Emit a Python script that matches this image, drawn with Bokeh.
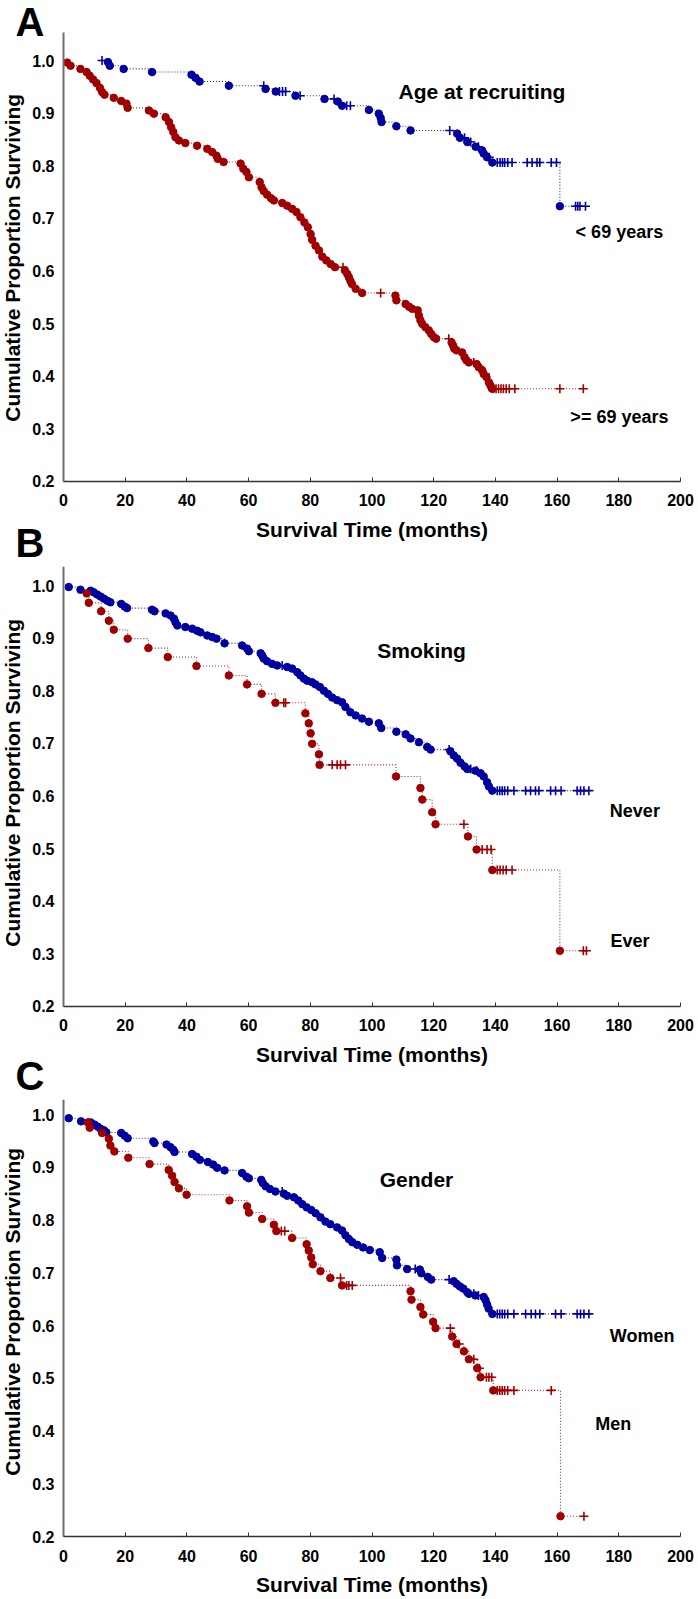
import numpy as np
from bokeh.plotting import figure
from bokeh.layouts import column
from bokeh.models import Range1d, FixedTicker, NumeralTickFormatter, Label
from bokeh.embed import file_html
from bokeh.resources import INLINE

# ---------------- data ----------------
x_ticks = [0, 20, 40, 60, 80, 100, 120, 140, 160, 180, 200]
y_ticks = [0.2, 0.3, 0.4, 0.5, 0.6, 0.7, 0.8, 0.9, 1.0]

# Panel A : age at recruiting
a_young_t = [14.4, 15.0, 19.5, 28.7, 41.5, 42.8, 44.1, 53.6, 65.5, 68.8, 75.2, 84.6, 88.9, 90.3, 99.0,
             102.2, 102.8, 103.1, 107.9, 112.5, 127.6, 128.5, 130.9, 133.6, 135.7, 136.2, 137.3, 139.0, 160.9]
a_young_s = [0.997, 0.990, 0.984, 0.978, 0.973, 0.967, 0.960, 0.952, 0.946, 0.941, 0.933, 0.927, 0.922, 0.914, 0.906,
             0.899, 0.891, 0.883, 0.875, 0.867, 0.861, 0.853, 0.845, 0.836, 0.829, 0.823, 0.816, 0.806, 0.723]
a_young_c = [12.5, 64.9, 70.0, 71.0, 72.0, 76.7, 87.7, 91.8, 93.0, 125.2, 130.0, 132.0, 134.5, 136.5, 138.0,
             140.6, 141.5, 142.3, 143.0, 144.0, 145.4, 150.3, 151.9, 153.5, 154.4, 158.1, 159.8,
             166.0, 166.7, 167.4, 169.2]

a_old_t = [1.2, 2.3, 5.5, 7.5, 8.5, 9.6, 10.7, 11.8, 12.5, 13.3,
           16.3, 18.7, 20.4, 20.8, 27.7, 29.3, 33.1, 34.2, 34.9, 35.6,
           36.3, 37.4, 39.5, 43.3, 46.6, 48.2, 49.6, 50.0, 51.9, 57.4,
           58.3, 59.3, 60.1, 63.6, 64.2, 64.9, 66.0, 67.3, 68.2, 70.9,
           72.5, 74.1, 75.5, 76.8, 78.1, 79.2, 80.1, 80.6, 81.7, 82.8,
           83.9, 85.2, 86.6, 88.0, 91.2, 92.0, 92.5, 93.0, 93.5, 94.7,
           96.8, 107.6, 107.9, 110.9, 112.0, 113.0, 114.8, 115.2, 115.7, 116.3,
           117.3, 118.4, 119.2, 120.1, 120.8, 125.8, 126.3, 126.7, 127.4, 129.2,
           130.0, 130.6, 131.4, 133.9, 134.6, 135.7, 136.2, 137.1, 137.9, 138.4,
           138.9]
a_old_s = [0.996, 0.990, 0.984, 0.978, 0.971, 0.964, 0.957, 0.948, 0.940, 0.935,
           0.929, 0.923, 0.918, 0.910, 0.905, 0.899, 0.892, 0.883, 0.873, 0.864,
           0.854, 0.848, 0.843, 0.838, 0.832, 0.826, 0.819, 0.813, 0.807, 0.804,
           0.794, 0.788, 0.778, 0.769, 0.759, 0.752, 0.745, 0.738, 0.734, 0.729,
           0.724, 0.718, 0.712, 0.702, 0.692, 0.683, 0.670, 0.659, 0.648, 0.639,
           0.627, 0.620, 0.613, 0.607, 0.601, 0.594, 0.588, 0.581, 0.575, 0.566,
           0.558, 0.553, 0.544, 0.537, 0.532, 0.528, 0.525, 0.515, 0.506, 0.499,
           0.493, 0.487, 0.480, 0.474, 0.471, 0.464, 0.458, 0.452, 0.449, 0.445,
           0.436, 0.430, 0.426, 0.423, 0.417, 0.411, 0.404, 0.398, 0.388, 0.382,
           0.376]
a_old_c = [90.6, 102.8, 124.9, 133.0, 135.0, 136.8, 139.4, 140.2, 141.0, 141.8, 142.6, 143.5,
           144.5, 146.3, 160.9, 168.5]

# Panel B : smoking
b_never_t = [1.7, 5.5, 8.8, 9.8, 10.9, 12.0, 13.1, 14.2, 15.2, 18.7,
             19.8, 20.6, 28.7, 29.5, 33.1, 34.7, 35.8, 36.3, 36.9, 39.5,
             41.7, 43.3, 44.4, 46.6, 48.2, 49.6, 52.2, 57.9, 59.5, 60.1,
             63.9, 64.4, 64.9, 66.0, 67.6, 69.3, 72.5, 74.1, 75.8, 76.8,
             77.9, 79.0, 80.6, 81.7, 83.1, 84.4, 85.7, 87.1, 88.7, 90.3,
             91.4, 93.0, 94.7, 96.8, 99.0, 102.2, 103.0, 107.9, 110.9, 112.5,
             115.2, 117.9, 119.0, 125.4, 126.5, 127.6, 128.7, 130.0, 130.9, 133.5,
             135.2, 136.2, 137.3, 137.9, 139.0]
b_never_s = [0.997, 0.992, 0.990, 0.987, 0.983, 0.979, 0.975, 0.971, 0.968, 0.965,
             0.960, 0.957, 0.954, 0.951, 0.947, 0.943, 0.937, 0.930, 0.924, 0.921,
             0.918, 0.914, 0.911, 0.905, 0.902, 0.899, 0.890, 0.886, 0.880, 0.875,
             0.871, 0.867, 0.861, 0.856, 0.851, 0.848, 0.845, 0.842, 0.835, 0.829,
             0.823, 0.819, 0.816, 0.812, 0.807, 0.800, 0.794, 0.787, 0.782, 0.778,
             0.769, 0.759, 0.753, 0.747, 0.741, 0.738, 0.729, 0.722, 0.717, 0.709,
             0.702, 0.693, 0.688, 0.685, 0.677, 0.671, 0.663, 0.656, 0.651, 0.648,
             0.643, 0.637, 0.626, 0.618, 0.610]
b_never_c = [70.9, 125.0, 132.0, 134.0, 140.6, 141.4, 142.2, 143.0, 144.0, 146.0, 149.8, 151.4,
             153.0, 154.1, 157.9, 159.5, 161.3, 166.5, 167.6, 168.7, 170.3]

b_ever_t = [7.5, 8.2, 12.2, 14.7, 16.3, 20.8, 27.5, 33.8, 43.1, 53.6,
            59.5, 64.2, 68.7, 78.4, 79.5, 80.1, 80.6, 82.8, 83.0, 107.8,
            115.7, 116.3, 119.5, 120.6, 131.1, 133.9, 139.0, 160.9]
b_ever_s = [0.985, 0.967, 0.951, 0.933, 0.916, 0.899, 0.881, 0.864, 0.847, 0.829,
            0.812, 0.794, 0.777, 0.757, 0.738, 0.719, 0.699, 0.679, 0.659, 0.637,
            0.615, 0.593, 0.569, 0.546, 0.523, 0.498, 0.459, 0.3055]
b_ever_c = [71.4, 72.0, 87.1, 88.7, 89.8, 91.4, 129.8, 135.7, 137.3, 138.6, 140.6, 141.5, 142.5,
            143.5, 145.4, 168.5, 169.5]

# Panel C : gender
c_women_t = [1.7, 5.7, 8.8, 10.0, 11.1, 12.0, 13.1, 13.9, 18.7, 19.8,
             20.8, 29.1, 29.5, 33.4, 34.7, 35.6, 36.0, 41.7, 43.1, 44.2,
             46.8, 48.5, 49.8, 52.2, 57.9, 59.3, 60.1, 64.1, 64.6, 65.5,
             66.9, 68.7, 71.4, 72.5, 74.7, 76.1, 77.4, 78.8, 80.3, 81.7,
             83.3, 84.9, 86.5, 88.7, 90.3, 91.4, 92.5, 93.6, 95.2, 97.1,
             99.3, 102.5, 103.3, 107.9, 108.1, 111.4, 115.5, 116.0, 118.1, 119.2,
             126.5, 127.4, 128.5, 129.6, 130.9, 131.4, 133.5, 136.2, 136.8, 137.3,
             137.8, 139.0]
c_women_s = [0.993, 0.987, 0.985, 0.981, 0.977, 0.973, 0.970, 0.966, 0.965, 0.960,
             0.955, 0.949, 0.946, 0.943, 0.938, 0.933, 0.929, 0.925, 0.920, 0.914,
             0.910, 0.905, 0.899, 0.894, 0.889, 0.882, 0.879, 0.876, 0.870, 0.864,
             0.859, 0.854, 0.850, 0.846, 0.843, 0.837, 0.830, 0.824, 0.819, 0.813,
             0.805, 0.797, 0.792, 0.786, 0.780, 0.771, 0.764, 0.758, 0.753, 0.748,
             0.743, 0.739, 0.728, 0.725, 0.714, 0.707, 0.706, 0.699, 0.692, 0.687,
             0.684, 0.679, 0.674, 0.670, 0.663, 0.660, 0.657, 0.654, 0.648, 0.640,
             0.632, 0.622]
c_women_c = [70.9, 114.0, 125.0, 133.0, 134.5, 140.6, 141.4, 142.2, 143.0, 144.0, 146.0, 149.8,
             151.6, 153.0, 154.4, 159.5, 161.3, 166.5, 167.6, 168.7, 170.3]

c_men_t = [7.9, 8.5, 12.5, 14.7, 15.2, 16.5, 21.0, 27.9, 34.1, 35.2,
           36.0, 37.4, 39.9, 53.8, 59.5, 60.1, 64.4, 68.2, 69.0, 74.1,
           78.8, 79.5, 80.3, 80.8, 83.3, 86.5, 90.3, 112.5, 112.8, 115.7,
           116.6, 119.8, 120.6, 126.0, 127.4, 129.8, 131.4, 134.1, 135.2, 139.3,
           161.1]
c_men_s = [0.985, 0.975, 0.965, 0.954, 0.941, 0.930, 0.918, 0.906, 0.895, 0.884,
           0.872, 0.860, 0.848, 0.837, 0.826, 0.814, 0.802, 0.791, 0.779, 0.766,
           0.754, 0.742, 0.729, 0.716, 0.703, 0.690, 0.676, 0.665, 0.649, 0.635,
           0.621, 0.607, 0.595, 0.579, 0.565, 0.551, 0.536, 0.519, 0.502, 0.477,
           0.2385]
c_men_c = [8.0, 70.6, 71.7, 89.8, 91.8, 92.5, 93.6, 125.4, 128.2, 133.0, 134.8, 137.1, 137.9,
           138.8, 140.6, 141.4, 142.2, 143.0, 144.0, 146.0, 158.1, 168.7]

# ---------------- styling / layout ----------------
FONT = "Liberation Sans"
BLUE = "#0000A0"
RED = "#A00000"
AXIS_GRAY = "#6E6E6E"
W = 698
X0_PX = 63.0            # page x of time 0
PX_PER_X = 617.0 / 200  # pixels per month
X_START = -X0_PX / PX_PER_X
X_END = (W - X0_PX) / PX_PER_X
LETTER_X = (15 - X0_PX) / PX_PER_X
YTITLE_X = (20 - X0_PX) / PX_PER_X
BASELINE_FIX = 0.37     # measured offset of the rendered baseline, in em


def km_path(ev_t, ev_s, cen_t):
    xs, ys = [], []
    if min(cen_t) < ev_t[0]:
        xs.append(min(cen_t))
        ys.append(1.0)
    xs += list(ev_t)
    ys += list(ev_s)
    if max(cen_t) > ev_t[-1]:
        xs.append(max(cen_t))
        ys.append(ev_s[-1])
    return xs, ys


def level_at(ev_t, ev_s, times):
    idx = np.searchsorted(np.asarray(ev_t), np.asarray(times), side="right") - 1
    return [1.0 if i < 0 else ev_s[i] for i in idx]


def draw_curve(p, ev_t, ev_s, cen_t, color):
    xs, ys = km_path(ev_t, ev_s, cen_t)
    p.step(xs, ys, mode="after", line_color=color, line_width=1.1,
           line_dash="1 2", line_alpha=0.85)
    p.scatter(ev_t, ev_s, marker="circle", size=7.5, fill_color=color, line_color=color)
    p.scatter(cen_t, level_at(ev_t, ev_s, cen_t), marker="cross", size=9,
              line_color=color, line_width=1.6)


def add_text(p, px_per_y, x, y, text, size_px, vertical=False, align="left"):
    """Place text with its baseline at (x, y) in data units."""
    shift = BASELINE_FIX * size_px
    if vertical:
        x = x - shift / PX_PER_X
        angle = np.pi / 2
    else:
        y = y + shift / px_per_y
        angle = 0.0
    p.add_layout(Label(x=x, y=y, text=text, text_font=FONT, text_font_size=f"{size_px}px",
                       text_font_style="bold", text_color="black", angle=angle,
                       text_align=align, text_baseline="alphabetic"))


def make_panel(top_pg, bot_pg, one_pg, px_per_y, axis_top_pg):
    """Figure occupying page rows top_pg..bot_pg; value 1.0 sits at page row one_pg."""
    height = bot_pg - top_pg
    y_end = 1.0 + (one_pg - top_pg) / px_per_y
    y_start = 1.0 - (bot_pg - one_pg) / px_per_y
    axis_top = min(y_end, 1.0 + (one_pg - axis_top_pg) / px_per_y)

    p = figure(width=W, height=height, x_range=Range1d(X_START, X_END),
               y_range=Range1d(y_start, y_end),
               output_backend="svg", toolbar_location=None, min_border=0)
    p.outline_line_color = None
    p.grid.visible = False
    p.background_fill_color = "white"
    p.border_fill_color = "white"

    xa = p.xaxis[0]
    xa.fixed_location = 0.2
    xa.bounds = (0, 200)
    xa.ticker = FixedTicker(ticks=x_ticks)
    xa.formatter = NumeralTickFormatter(format="0")
    xa.axis_line_color = "#333333"
    xa.axis_line_width = 1.5
    xa.major_tick_in = 4
    xa.major_tick_out = 0
    xa.major_tick_line_color = "#333333"
    xa.minor_tick_line_color = None
    xa.major_label_text_font = FONT
    xa.major_label_text_font_size = "16px"
    xa.major_label_text_font_style = "bold"
    xa.major_label_text_color = "black"
    xa.major_label_standoff = 13

    ya = p.yaxis[0]
    ya.fixed_location = 0
    ya.bounds = (0.2, axis_top)
    ya.ticker = FixedTicker(ticks=y_ticks)
    ya.formatter = NumeralTickFormatter(format="0.0")
    ya.axis_line_color = AXIS_GRAY
    ya.axis_line_width = 2
    ya.major_tick_in = 0
    ya.major_tick_out = 0
    ya.minor_tick_line_color = None
    ya.major_label_text_font = FONT
    ya.major_label_text_font_size = "16px"
    ya.major_label_text_font_style = "bold"
    ya.major_label_text_color = "black"
    ya.major_label_standoff = 9

    # axis titles, placed as plain text at the reference positions
    add_text(p, px_per_y, YTITLE_X, 1.0 - (0.375 * 526) / px_per_y,
             "Cumulative Proportion Surviving", 21, vertical=True, align="center")
    add_text(p, px_per_y, 100, 0.2 - 56 / px_per_y, "Survival Time (months)", 21, align="center")
    return p


# Panel A   (page rows 0..566, 1.0 at row 60)
pA = make_panel(0, 566, 60, 526, 32)
draw_curve(pA, a_young_t, a_young_s, a_young_c, BLUE)
draw_curve(pA, a_old_t, a_old_s, a_old_c, RED)
add_text(pA, 526, 108.6, 0.926, "Age at recruiting", 21)
add_text(pA, 526, 166.0, 0.661, "< 69 years", 18)
add_text(pA, 526, 164.3, 0.309, ">= 69 years", 18)
add_text(pA, 526, LETTER_X, 1.0 + (60 - 36.5) / 526, "A", 40)
add_text(pA, 526, LETTER_X, 1.0 - (557 - 60) / 526, "B", 40)

# Panel B   (page rows 566..1099, 1.0 at row 585)
pB = make_panel(566, 1099, 585, 526, 558)
draw_curve(pB, b_never_t, b_never_s, b_never_c, BLUE)
draw_curve(pB, b_ever_t, b_ever_s, b_ever_c, RED)
add_text(pB, 526, 101.7, 0.861, "Smoking", 21)
add_text(pB, 526, 177.1, 0.5595, "Never", 18)
add_text(pB, 526, 177.3, 0.312, "Ever", 18)
add_text(pB, 526, LETTER_X, 1.0 - (1090 - 585) / 526, "C", 40)

# Panel C   (page rows 1099..1599, 1.0 at row 1114)
pC = make_panel(1099, 1599, 1114, 527.5, 1089)
draw_curve(pC, c_women_t, c_women_s, c_women_c, BLUE)
draw_curve(pC, c_men_t, c_men_s, c_men_c, RED)
add_text(pC, 527.5, 102.5, 0.862, "Gender", 21)
add_text(pC, 527.5, 177.1, 0.568, "Women", 18)
add_text(pC, 527.5, 172.4, 0.400, "Men", 18)

layout = column(pA, pB, pC, spacing=0)
open("out.html", "w").write(file_html(layout, INLINE))
